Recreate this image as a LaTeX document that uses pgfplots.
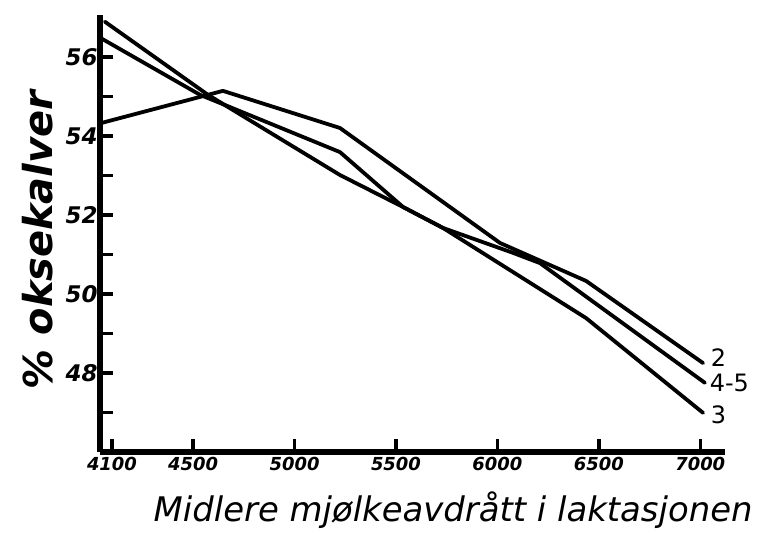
\documentclass[border=0pt]{standalone}
\usepackage{pgfplots}
\pgfplotsset{compat=1.18}
\usepackage{fontspec}
\setmainfont{DejaVu Sans}
\begin{document}
\begin{tikzpicture}
\begin{axis}[
  scale only axis, width=625bp, height=437bp,
  xmin=4041, xmax=7122, ymin=46, ymax=57.06,
  axis lines=left, axis line style={-, line width=5.5bp},
  clip=false,
  xtick={4100,4500,5000,5500,6000,6500,7000},
  xticklabels={4100,4500,5000,5500,6000,6500,7000},
  ytick={47,48,49,50,51,52,53,54,55,56},
  yticklabels={,48,,50,,52,,54,,56},
  tick style={black, line width=3.5bp},
  major tick length=13bp,
  tick align=inside,
  /pgf/number format/assume math mode=true,
  xticklabel style={font=\fontsize{18}{18}\selectfont\bfseries\itshape, yshift=-2bp},
  yticklabel style={font=\fontsize{23}{23}\selectfont\bfseries\itshape, xshift=1bp},
  ylabel={\% oksekalver},
  ylabel style={font=\fontsize{40}{40}\selectfont\bfseries\itshape, at={(axis description cs:-0.099,0.485)}, anchor=center},
  xlabel={Midlere mjølkeavdrått i laktasjonen},
  xlabel style={font=\fontsize{34}{34}\selectfont\itshape, at={(axis description cs:0.565,-0.133)}, anchor=center},
]
% line 2
\addplot[black, line width=3.8bp, no markers, line join=round, line cap=round] coordinates {(4050,54.33) (4647,55.14) (5224,54.20) (6013,51.29) (6437,50.33) (7014,48.25)}
  node[pos=1, anchor=west, font=\fontsize{24}{24}\selectfont, inner sep=0bp, xshift=6bp, yshift=5bp] {2};
% line 4-5
\addplot[black, line width=3.8bp, no markers, line join=round, line cap=round] coordinates {(4050,56.46) (4534,55.04) (5224,53.59) (5535,52.20) (5732,51.67) (6077,51.04) (6210,50.78) (7023,47.75)}
  node[pos=1, anchor=west, font=\fontsize{24}{24}\selectfont, inner sep=0bp, xshift=3bp, yshift=0bp] {4-5};
% line 3
\addplot[black, line width=3.8bp, no markers, line join=round, line cap=round] coordinates {(4065,56.89) (4573,55.04) (5224,53.01) (5535,52.20) (5732,51.67) (6437,49.39) (7014,46.99)}
  node[pos=1, anchor=west, font=\fontsize{24}{24}\selectfont, inner sep=0bp, xshift=6bp, yshift=-2bp] {3};
\end{axis}
\pgfresetboundingbox
\path (-100bp,-84bp) rectangle (663bp,452bp);
\end{tikzpicture}
\end{document}
